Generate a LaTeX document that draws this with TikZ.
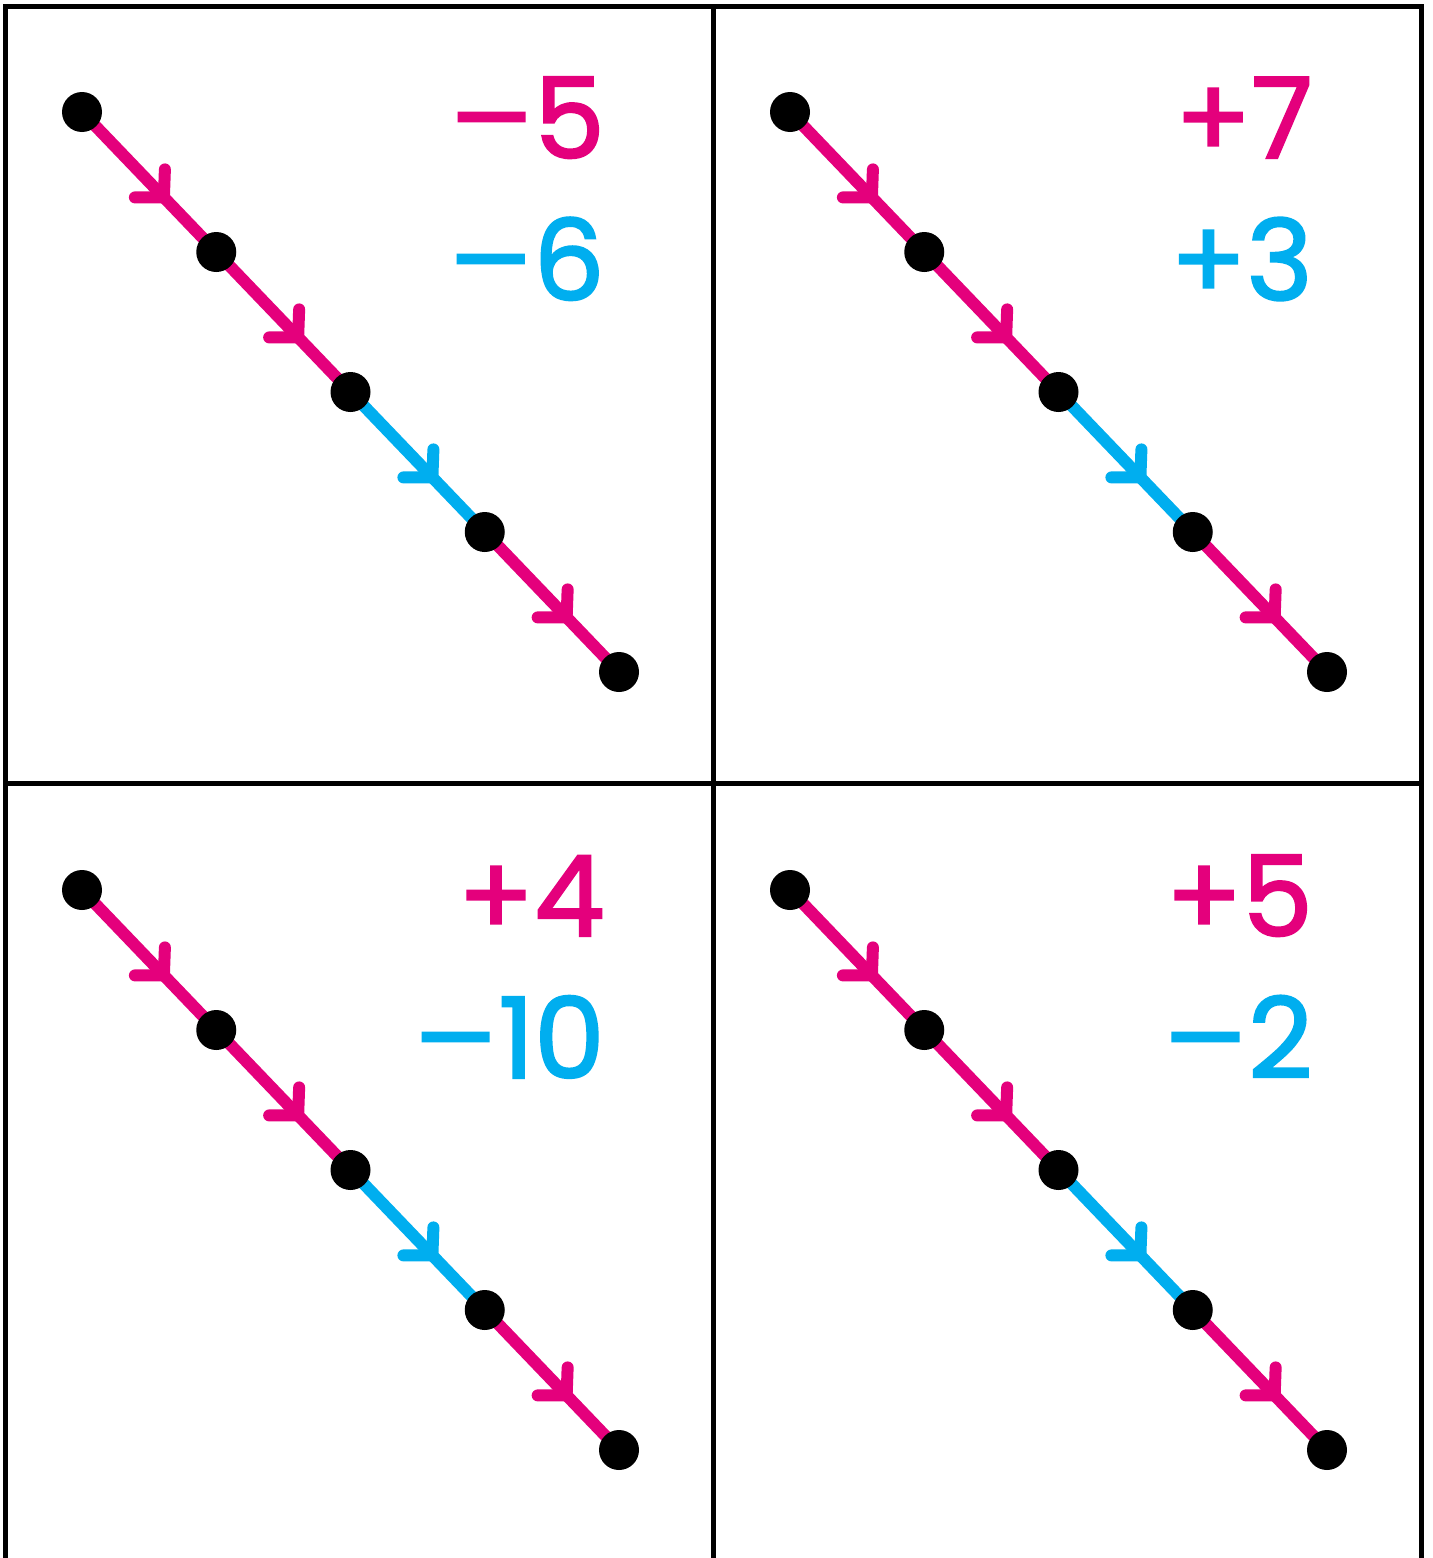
\documentclass[tikz,border=0pt]{standalone}
\usepackage{fontspec}
\usepackage{graphicx}
\newfontfamily\numfont{Poppins}[FakeBold=2]
\usetikzlibrary{calc}
\definecolor{mag}{HTML}{E4007C}
\definecolor{cyn}{HTML}{00AEEF}
\pgfdeclarelayer{back}
\pgfdeclarelayer{bg}
\pgfsetlayers{back,bg,main}
\newcommand\mns{\scalebox{1.45}[1]{−}\kern-1pt}
\tikzset{
  frame/.style={line width=2.5pt, line join=miter, draw=black},
  dot/.style={circle, fill=black, minimum size=20pt, inner sep=0pt},
  seg/.style={line width=6pt, line cap=round, line join=round},
  numtxt/.style={inner sep=0pt, font=\numfont\fontsize{56pt}{60pt}\selectfont, anchor=base east},
}
\newcommand\mypanel[5]{%
  \begin{scope}[shift={(#2,#3)}]
    \foreach \i in {1,...,5} {
      \node[dot] (#1-\i) at ({82+134.25*(\i-1)},{112+140*(\i-1)}) {};
    }
    \begin{pgfonlayer}{bg}
      \foreach \a/\b/\c in {1/2/mag,2/3/mag,3/4/cyn,4/5/mag} {
        \draw[seg, draw=\c] (#1-\a.center) -- (#1-\b.center);
        \draw[seg, draw=\c] ($(#1-\a.center)!0.61!(#1-\b.center)$) +(1,-28) -- +(0,0) -- +(-29,0);
      }
    \end{pgfonlayer}
    \node[numtxt, text=mag] (#1-top) at (605,158) {#4};
    \node[numtxt, text=cyn] (#1-bot) at (605,300) {#5};
  \end{scope}
}
\begin{document}
\begin{tikzpicture}[x=0.5pt,y=-0.5pt]
  \useasboundingbox (0,0) rectangle (1432,1558);
  \begin{pgfonlayer}{back}
    \fill[white] (0,0) rectangle (1432,1558);
  \end{pgfonlayer}
  \draw[frame] (5,1558) -- (5,6) -- (1421,6) -- (1421,1558);
  \draw[frame] (713,6) -- (713,1558);
  \draw[frame] (5,783) -- (1421,783);
  \mypanel{A}{0}{0}{\mns5}{\mns6}
  \mypanel{B}{708}{0}{+7}{+3}
  \mypanel{C}{0}{778}{+4}{\mns10}
  \mypanel{D}{708}{778}{+5}{\mns2}
\end{tikzpicture}
\end{document}
